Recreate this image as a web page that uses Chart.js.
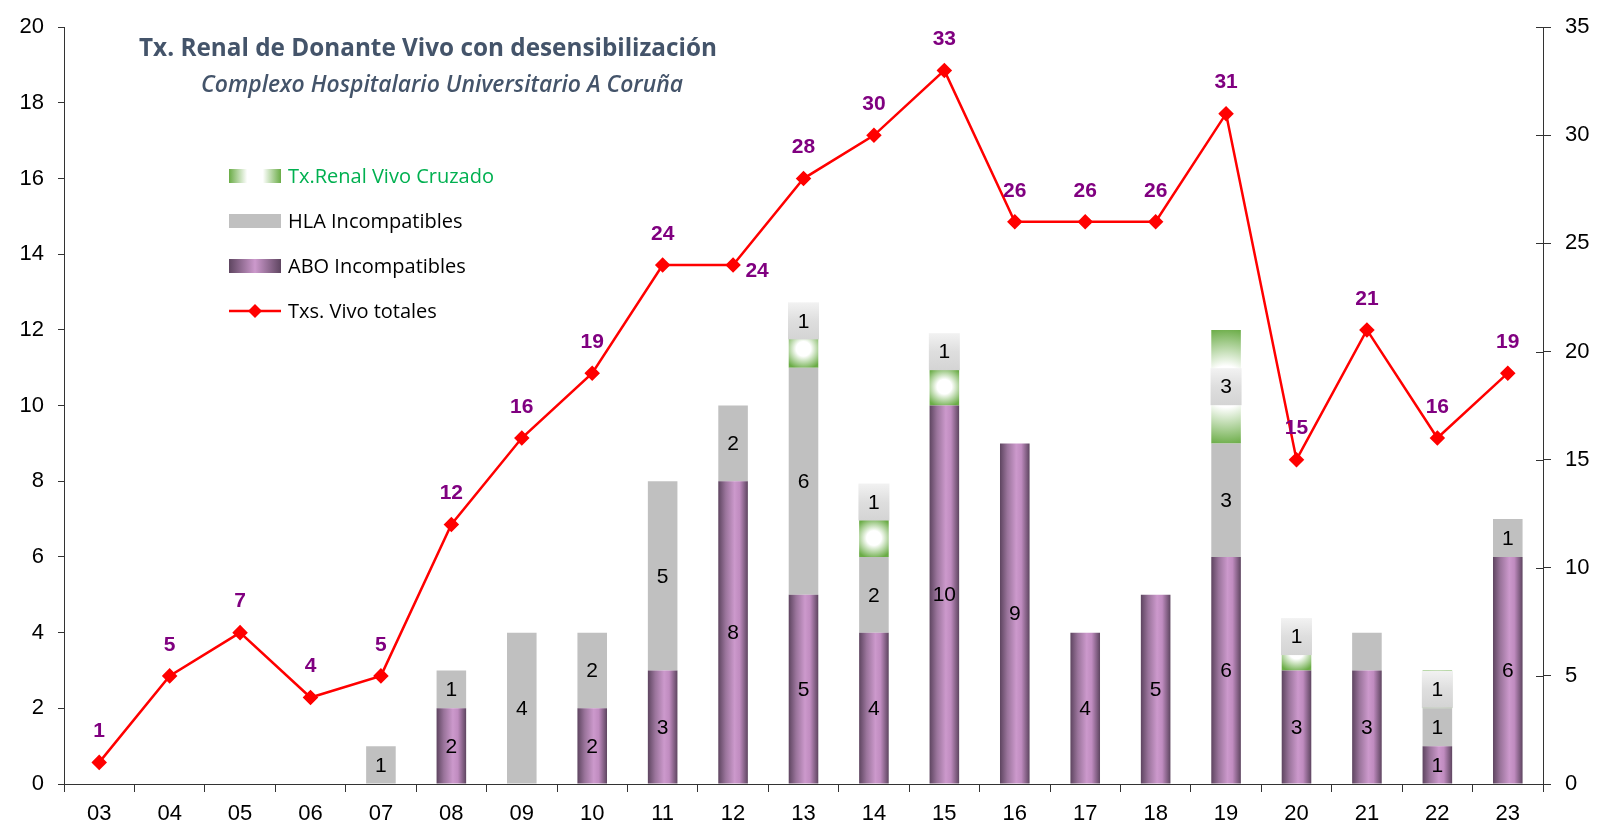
<!DOCTYPE html>
<html>
<head>
<meta charset="utf-8">
<script src="https://cdn.jsdelivr.net/npm/chart.js@4.4.1/dist/chart.umd.min.js"></script>
<style>
  html, body { margin: 0; padding: 0; background: #fff; }
  #wrap { width: 1597px; height: 826px; }
</style>
</head>
<body>
<div id="wrap"><canvas id="chart" width="1597" height="826"></canvas></div>
<script>
// chart values
const years = ['03', '04', '05', '06', '07', '08', '09', '10', '11', '12', '13', '14', '15', '16', '17', '18', '19', '20', '21', '22', '23'];
const aboIncompatibles = [0, 0, 0, 0, 0, 2, 0, 2, 3, 8, 5, 4, 10, 9, 4, 5, 6, 3, 3, 1, 6];
const hlaIncompatibles = [0, 0, 0, 0, 1, 1, 4, 2, 5, 2, 6, 2, 0, 0, 0, 0, 3, 0, 1, 1, 1];
const vivoCruzado = [0, 0, 0, 0, 0, 0, 0, 0, 0, 0, 1, 1, 1, 0, 0, 0, 3, 1, 0, 1, 0];
const totales = [1, 5, 7, 4, 5, 12, 16, 19, 24, 24, 28, 30, 33, 26, 26, 26, 31, 15, 21, 16, 19];
const leftTicks = { min: 0, max: 20, step: 2 };
const rightTicks = { min: 0, max: 35, step: 5 };

const BAR_FRACTION = 0.42;
const GREEN = '#6aac46';
const PURPLE_DARK = '#5e4560';
const PURPLE_LIGHT = '#cc99cc';

const barWidth = (chart) => chart.scales.x.width / years.length * BAR_FRACTION;

// horizontal "cylinder" shading on the ABO bars
const aboFill = (c) => {
    const chart = c.chart;
    if (!chart.chartArea || c.type !== 'data') return PURPLE_LIGHT;
    const cx = chart.scales.x.getPixelForValue(c.dataIndex);
    const w = barWidth(chart);
    const g = chart.ctx.createLinearGradient(cx - w / 2, 0, cx + w / 2, 0);
    g.addColorStop(0, PURPLE_DARK);
    g.addColorStop(0.25, '#9a749b');
    g.addColorStop(0.55, PURPLE_LIGHT);
    g.addColorStop(0.72, '#c08cc0');
    g.addColorStop(1, PURPLE_DARK);
    return g;
};

// white glow in the middle of the green segments
const cruzadoFill = (c) => {
    const chart = c.chart;
    if (!chart.chartArea || c.type !== 'data') return GREEN;
    const i = c.dataIndex;
    const y = chart.scales.y;
    const cx = chart.scales.x.getPixelForValue(i);
    const base = aboIncompatibles[i] + hlaIncompatibles[i];
    const cy = y.getPixelForValue(base + vivoCruzado[i] / 2);
    const h = Math.abs(y.getPixelForValue(base) - y.getPixelForValue(base + vivoCruzado[i]));
    const r = Math.max(barWidth(chart), h) / 2 + 2;
    const g = chart.ctx.createRadialGradient(cx, cy, 0, cx, cy, r);
    g.addColorStop(0, '#ffffff');
    g.addColorStop(0.35, '#ffffff');
    g.addColorStop(1, GREEN);
    return g;
};

const axisFont = { family: 'Arial, "Liberation Sans"', size: 22 };

// shrink/grow a font so the text takes a given width
function fitFont(ctx, text, style, family, targetWidth) {
    ctx.font = style + ' 20px ' + family;
    const size = 20 * targetWidth / ctx.measureText(text).width;
    ctx.font = style + ' ' + size.toFixed(1) + 'px ' + family;
}

// numbers inside the bar segments, boxed labels on the green ones, purple labels on the line
const valueLabels = {
    id: 'valueLabels',
    afterDatasetsDraw(chart) {
        const ctx = chart.ctx;
        ctx.save();
        ctx.textAlign = 'center';
        ctx.textBaseline = 'middle';

        // ABO & HLA
        ctx.font = '21px Arial, "Liberation Sans"';
        ctx.fillStyle = '#000';
        [1, 2].forEach(di => {
            const meta = chart.getDatasetMeta(di);
            meta.data.forEach((bar, i) => {
                const v = chart.data.datasets[di].data[i];
                if (!v) return;
                if (di === 2 && i === 18) return; // no label in the reference
                ctx.fillText(String(v), bar.x, (bar.y + bar.base) / 2 + 1);
            });
        });

        // Cruzado: grey boxes
        const lift = { 10: 28, 11: 36, 12: 35, 17: 15 };
        const meta = chart.getDatasetMeta(3);
        meta.data.forEach((bar, i) => {
            const v = vivoCruzado[i];
            if (!v) return;
            const cy = (bar.y + bar.base) / 2 - (lift[i] || 0);
            const bw = 31, bh = 37;
            const g = ctx.createLinearGradient(0, cy - bh / 2, 0, cy + bh / 2);
            g.addColorStop(0, '#f2f2f2');
            g.addColorStop(0.5, '#dedede');
            g.addColorStop(1, '#d4d4d4');
            ctx.fillStyle = g;
            ctx.fillRect(bar.x - bw / 2, cy - bh / 2, bw, bh);
            ctx.fillStyle = '#000';
            ctx.fillText(String(v), bar.x, cy + 1);
        });

        // line labels
        ctx.font = 'bold 21px Arial, "Liberation Sans"';
        ctx.fillStyle = '#800080';
        chart.getDatasetMeta(0).data.forEach((pt, i) => {
            let dx = 0, dy = -31;
            if (i === 9) { dx = 24; dy = 6; }
            ctx.fillText(String(totales[i]), pt.x + dx, pt.y + dy);
        });
        ctx.restore();
    }
};

// title, subtitle, legend, inner ticks of the right axis
const decorations = {
    id: 'decorations',
    afterDraw(chart) {
        const ctx = chart.ctx;
        ctx.save();

        ctx.textAlign = 'center';
        ctx.textBaseline = 'middle';
        ctx.fillStyle = '#44546a';
        const title = 'Tx. Renal de Donante Vivo con desensibilización';
        const subtitle = 'Complexo Hospitalario Universitario A Coruña';
        fitFont(ctx, title, 'bold', '"Open Sans"', 578);
        ctx.fillText(title, 428, 49);
        fitFont(ctx, subtitle, 'italic 600', '"Open Sans"', 482);
        ctx.fillText(subtitle, 442, 85);

        // legend
        const sx = 229, sw = 52, sh = 14, tx = 288;
        const items = [
            { y: 176, label: 'Tx.Renal Vivo Cruzado', color: '#00b050', kind: 'cruzado' },
            { y: 221, label: 'HLA Incompatibles', color: '#000', kind: 'hla' },
            { y: 266, label: 'ABO Incompatibles', color: '#000', kind: 'abo' },
            { y: 311, label: 'Txs. Vivo totales', color: '#000', kind: 'line' }
        ];
        ctx.textAlign = 'left';
        items.forEach(it => {
            if (it.kind === 'line') {
                ctx.strokeStyle = '#ff0000';
                ctx.lineWidth = 2.5;
                ctx.beginPath();
                ctx.moveTo(sx, it.y);
                ctx.lineTo(sx + sw, it.y);
                ctx.stroke();
                ctx.fillStyle = '#ff0000';
                ctx.beginPath();
                ctx.moveTo(sx + sw / 2, it.y - 7);
                ctx.lineTo(sx + sw / 2 + 7, it.y);
                ctx.lineTo(sx + sw / 2, it.y + 7);
                ctx.lineTo(sx + sw / 2 - 7, it.y);
                ctx.closePath();
                ctx.fill();
            } else {
                let fill = '#c0c0c0';
                if (it.kind !== 'hla') {
                    const g = ctx.createLinearGradient(sx, 0, sx + sw, 0);
                    if (it.kind === 'abo') {
                        g.addColorStop(0, PURPLE_DARK);
                        g.addColorStop(0.5, PURPLE_LIGHT);
                        g.addColorStop(1, PURPLE_DARK);
                    } else {
                        g.addColorStop(0, GREEN);
                        g.addColorStop(0.35, '#ffffff');
                        g.addColorStop(0.65, '#ffffff');
                        g.addColorStop(1, GREEN);
                    }
                    fill = g;
                }
                ctx.fillStyle = fill;
                ctx.fillRect(sx, it.y - sh / 2, sw, sh);
            }
            ctx.fillStyle = it.color;
            ctx.font = '20px "Open Sans"';
            ctx.fillText(it.label, tx, it.y + 1);
        });

        // right axis ticks cross the axis line
        const y1 = chart.scales.y1;
        ctx.strokeStyle = '#333';
        ctx.lineWidth = 1;
        y1.ticks.forEach(t => {
            const py = Math.round(y1.getPixelForValue(t.value)) + 0.5;
            ctx.beginPath();
            ctx.moveTo(y1.left - 7, py);
            ctx.lineTo(y1.left, py);
            ctx.stroke();
        });
        ctx.restore();
    }
};

const chart = new Chart(document.getElementById('chart'), {
    type: 'bar',
    data: {
        labels: years,
        datasets: [
            {
                type: 'line',
                label: 'Txs. Vivo totales',
                data: totales,
                yAxisID: 'y1',
                borderColor: '#ff0000',
                borderWidth: 2.5,
                backgroundColor: '#ff0000',
                pointStyle: 'rectRot',
                pointRadius: 6,
                pointBackgroundColor: '#ff0000',
                pointBorderColor: '#ff0000',
                tension: 0,
                order: 0,
            },
            { label: 'ABO Incompatibles', data: aboIncompatibles, backgroundColor: aboFill, stack: 's', order: 1 },
            { label: 'HLA Incompatibles', data: hlaIncompatibles, backgroundColor: '#c0c0c0', stack: 's', order: 1 },
            { label: 'Tx.Renal Vivo Cruzado', data: vivoCruzado, backgroundColor: cruzadoFill, stack: 's', order: 1 },
        ],
    },
    options: {
        responsive: false,
        animation: false,
        events: [],
        categoryPercentage: 1,
        barPercentage: BAR_FRACTION,
        layout: { padding: { left: 0, right: 0, top: 24, bottom: 0 } },
        plugins: {
            legend: { display: false },
            tooltip: { enabled: false },
            title: { display: false },
        },
        scales: {
            x: {
                stacked: true,
                afterFit: (s) => { s.height = 42; },
                grid: { display: true, drawOnChartArea: false, offset: true, tickLength: 8, color: '#333' },
                border: { color: '#333' },
                ticks: { font: axisFont, color: '#000', padding: 9, maxRotation: 0 },
            },
            y: {
                stacked: true,
                min: leftTicks.min,
                max: leftTicks.max,
                afterFit: (s) => { s.width = 64; },
                grid: { drawOnChartArea: false, tickLength: 6, color: '#333' },
                border: { color: '#333' },
                ticks: { stepSize: leftTicks.step, font: axisFont, color: '#000', padding: 14 },
            },
            y1: {
                position: 'right',
                min: rightTicks.min,
                max: rightTicks.max,
                afterFit: (s) => { s.width = 54; },
                grid: { drawOnChartArea: false, tickLength: 8, color: '#333' },
                border: { color: '#333' },
                ticks: { stepSize: rightTicks.step, font: axisFont, color: '#000', padding: 14 },
            },
        },
    },
    plugins: [valueLabels, decorations],
});
</script>
</body>
</html>
